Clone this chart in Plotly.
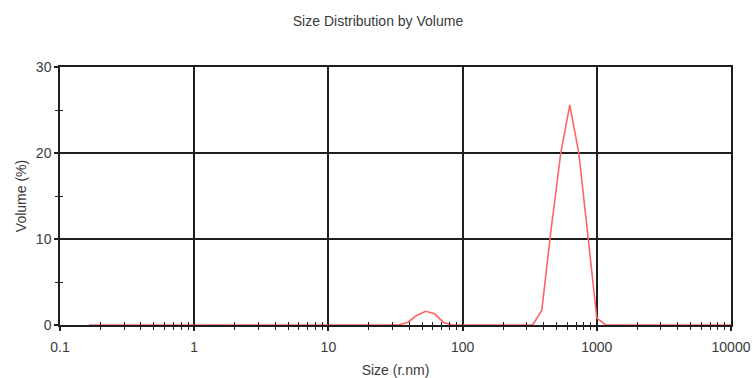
import plotly.graph_objects as go

# Data (size in r.nm, volume in %)
sizes = [0.165, 33.3, 38.9, 45.4, 53.0, 61.8, 72.2, 84.2,
         332, 389, 454, 539, 629, 734, 857, 1000, 1167, 10000]
volume = [0, 0, 0.3, 1.1, 1.6, 1.3, 0.3, 0,
          0, 1.7, 10.8, 20.0, 25.6, 20.0, 10.5, 0.8, 0, 0]

x_ticks = [0.1, 1, 10, 100, 1000, 10000]
x_tick_labels = ["0.1", "1", "10", "100", "1000", "10000"]
y_ticks = [0, 10, 20, 30]

FONT = "Liberation Sans, Arial, sans-serif"
TXT = "#3a3a3a"
GRID = "#1e1e1e"

fig = go.Figure()
fig.add_trace(go.Scatter(
    x=sizes, y=volume, mode="lines",
    line=dict(color="#ff6464", width=1.6),
    cliponaxis=False, showlegend=False, hoverinfo="skip"))
# invisible trace to carry the overlay axes (inner tick halves)
fig.add_trace(go.Scatter(x=[x_ticks[0]], y=[0], xaxis="x2", yaxis="y2",
                         mode="markers", marker=dict(opacity=0),
                         showlegend=False, hoverinfo="skip"))

fig.update_layout(
    width=756, height=378,
    margin=dict(l=60, r=25, t=67, b=53),
    paper_bgcolor="white", plot_bgcolor="white",
    font=dict(family=FONT, size=14, color=TXT),
    title=dict(text="Size Distribution by Volume", x=0.5, xanchor="center",
               y=0.945, yanchor="middle", font=dict(size=14, color=TXT)),
    xaxis=dict(
        type="log", range=[-1, 4], automargin=False,
        tickvals=x_ticks, ticktext=x_tick_labels,
        showgrid=True, gridcolor=GRID, gridwidth=1.5,
        showline=True, linecolor=GRID, linewidth=1.5, mirror=True,
        ticks="outside", ticklen=4, tickcolor=GRID, tickwidth=1.5,
        ticklabelstandoff=4,
        minor=dict(dtick="D1", ticks="outside", ticklen=3,
                   tickcolor=GRID, tickwidth=1.2, showgrid=False),
        zeroline=False,
        title=dict(text="Size (r.nm)", standoff=14, font=dict(size=14, color=TXT)),
        tickfont=dict(size=14, color=TXT),
    ),
    yaxis=dict(
        range=[0, 30], tickvals=y_ticks, automargin=False,
        showgrid=True, gridcolor=GRID, gridwidth=1.5,
        showline=True, linecolor=GRID, linewidth=1.5, mirror=True,
        ticks="outside", ticklen=4, tickcolor=GRID, tickwidth=1.5,
        minor=dict(dtick=5, ticks="outside", ticklen=3,
                   tickcolor=GRID, tickwidth=1.2, showgrid=False),
        zeroline=False,
        title=dict(text="Volume (%)", standoff=6, font=dict(size=14, color=TXT)),
        tickfont=dict(size=14, color=TXT),
    ),
    xaxis2=dict(
        type="log", range=[-1, 4], overlaying="x", side="bottom", automargin=False,
        showgrid=False, showticklabels=False, zeroline=False,
        tickvals=x_ticks, ticks="inside", ticklen=3, tickcolor=GRID,
        minor=dict(dtick="D1", ticks="inside", ticklen=3,
                   tickcolor=GRID, tickwidth=1.2, showgrid=False),
    ),
    yaxis2=dict(
        range=[0, 30], overlaying="y", side="left", automargin=False,
        showgrid=False, showticklabels=False, zeroline=False,
        tickvals=[], ticks="inside", ticklen=3, tickcolor=GRID,
        minor=dict(dtick=5, ticks="inside", ticklen=3,
                   tickcolor=GRID, tickwidth=1.2, showgrid=False),
    ),
)

fig.write_html("out.html")
